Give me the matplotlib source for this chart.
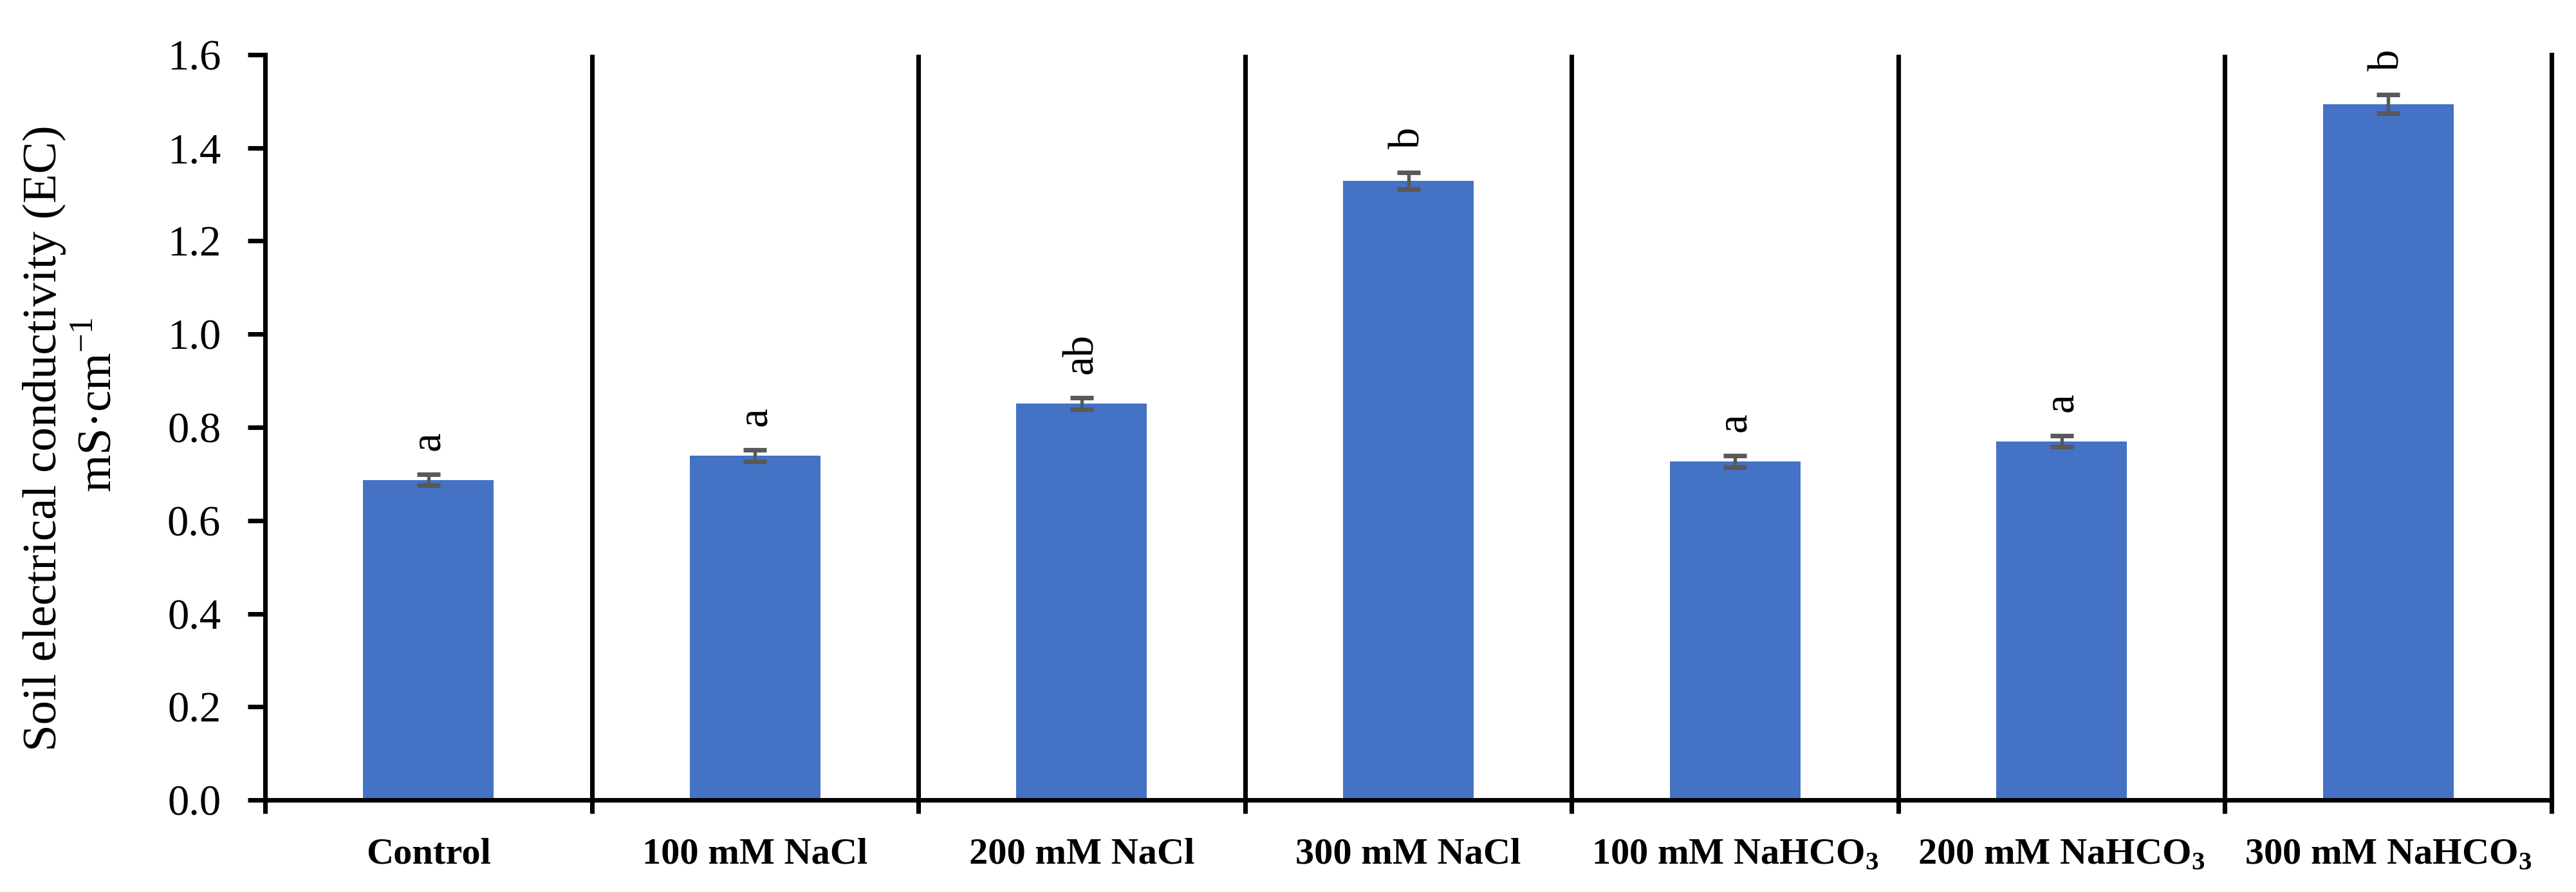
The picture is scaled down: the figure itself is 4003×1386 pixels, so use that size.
import numpy as np
import matplotlib
matplotlib.use("Agg")
import matplotlib.pyplot as plt

plt.rcParams["font.family"] = ["Liberation Serif", "DejaVu Serif"]
plt.rcParams["mathtext.fontset"] = "custom"
plt.rcParams["mathtext.rm"] = "Liberation Serif"
plt.rcParams["mathtext.bf"] = "Liberation Serif:bold"

treatments = ["Control", "100 mM NaCl", "200 mM NaCl", "300 mM NaCl",
              r"100 mM NaHCO$_\mathbf{3}$", r"200 mM NaHCO$_\mathbf{3}$", r"300 mM NaHCO$_\mathbf{3}$"]
ec_mean = [0.687, 0.739, 0.851, 1.329, 0.727, 0.770, 1.494]
ec_err = [0.012, 0.012, 0.012, 0.018, 0.012, 0.012, 0.020]
letters = ["a", "a", "ab", "b", "a", "a", "b"]

W, H = 4003, 1386
fig = plt.figure(figsize=(W / 300, H / 300), dpi=300)
ax = fig.add_axes([412 / W, 143 / H, (3965 - 412) / W, (1243 - 85) / H])

x = np.arange(len(treatments))
lw = 1.7
ax.bar(x, ec_mean, width=0.4, color="#4472C4", zorder=2)
ax.errorbar(x, ec_mean, yerr=ec_err, fmt="none", ecolor="#595959",
            elinewidth=1.3, capsize=4.4, capthick=1.7, zorder=3)

for xi, m, e, lab in zip(x, ec_mean, ec_err, letters):
    ax.annotate(lab, (xi, m + e), xytext=(0, 9), textcoords="offset points",
                ha="center", va="bottom", rotation=90, fontsize=16)

# category separators
bounds = np.arange(-0.5, len(treatments) + 0.5, 1)
for b in bounds[1:-1]:
    ax.axvline(b, color="black", lw=lw, zorder=1)

ax.set_xlim(-0.5, len(treatments) - 0.5)
ax.set_ylim(0, 1.6)
ax.set_yticks(np.arange(0, 1.61, 0.2))
ax.set_yticklabels([f"{v:.1f}" for v in np.arange(0, 1.61, 0.2)], fontsize=16)
ax.set_xticks(bounds)
ax.set_xticklabels([""] * len(bounds))
ax.set_xticks(x, minor=True)
ax.set_xticklabels(treatments, minor=True, fontsize=14, fontweight="bold")
ax.tick_params(axis="x", which="major", direction="out", length=5, width=lw)
ax.tick_params(axis="x", which="minor", length=0, pad=14)
ax.tick_params(axis="y", direction="out", length=6.5, width=lw, pad=10)

ax.spines["top"].set_visible(False)
for s in ["left", "bottom", "right"]:
    ax.spines[s].set_linewidth(lw)

# two-line y axis title, placed line by line
fig.text(69 / W, 1 - 681 / H, "Soil electrical conductivity (EC)", rotation=90,
         ha="center", va="center", fontsize=18)
fig.text(155 / W, 1 - 629 / H, r"mS·cm$^{\mathregular{-1}}$", rotation=90,
         ha="center", va="center", fontsize=18)

fig.savefig("out.png", dpi=300)
